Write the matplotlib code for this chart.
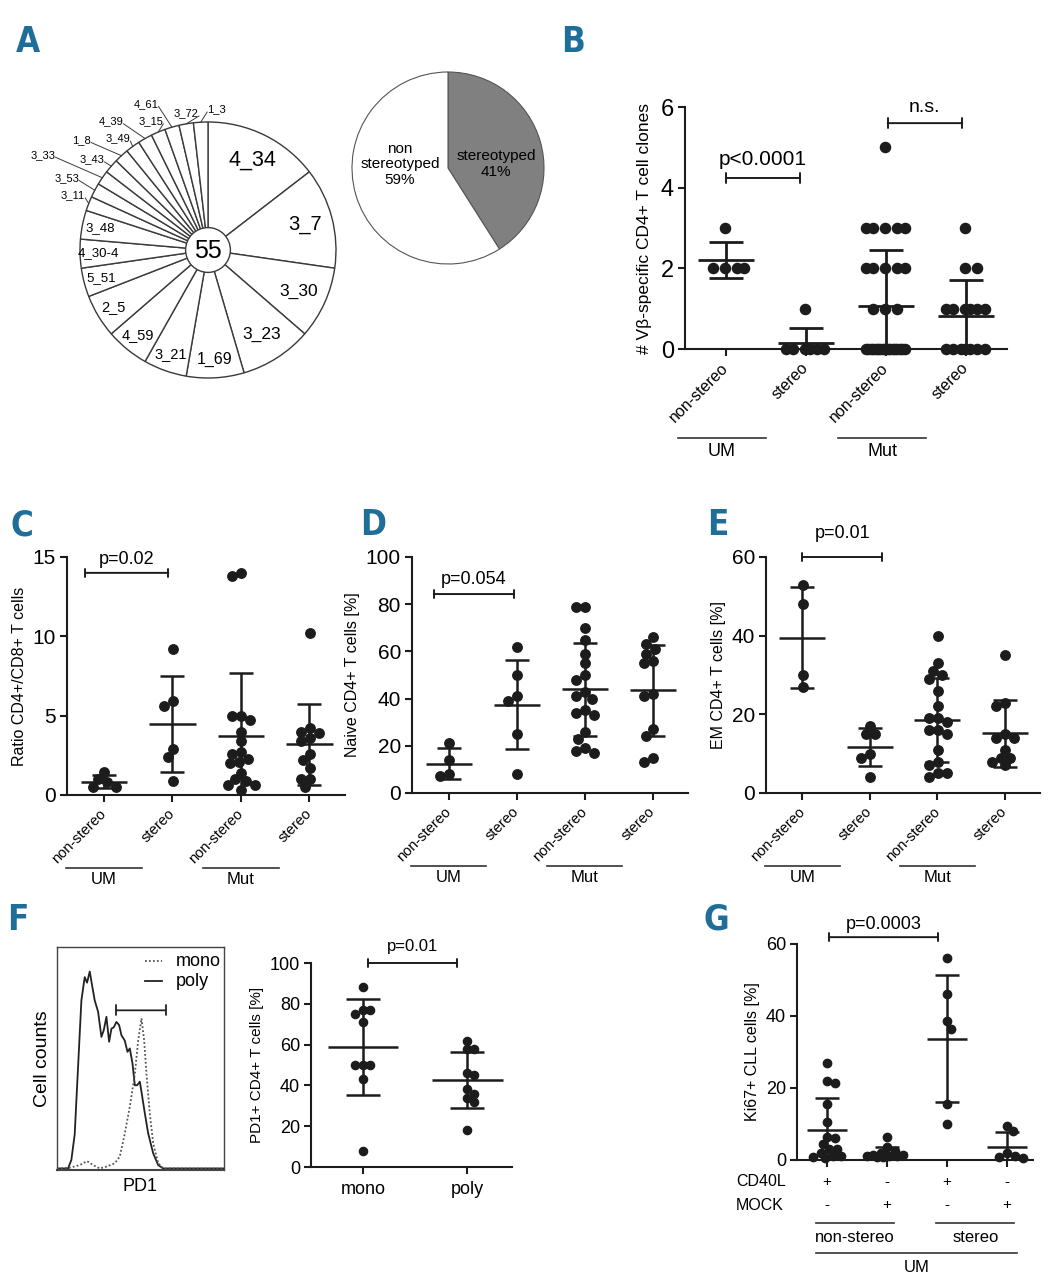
import numpy as np
import matplotlib
matplotlib.use('Agg')
import matplotlib.pyplot as plt
from matplotlib.patches import Circle
from matplotlib.lines import Line2D
from matplotlib.transforms import blended_transform_factory, offset_copy

# ---------------- data ----------------
# A: V-beta families of stereotyped clones (n = 55)
vb_families = ['4_34', '3_7', '3_30', '3_23', '1_69', '3_21', '4_59', '2_5', '5_51', '4_30-4', '3_48',
               '3_11', '3_53', '3_33', '3_43', '1_8', '3_49', '4_39', '3_15', '4_61', '3_72', '1_3']
vb_counts = [8, 7, 5, 5, 4, 3, 3, 3, 2, 2, 2, 1, 1, 1, 1, 1, 1, 1, 1, 1, 1, 1]
total_clones = '55'
stereo_names = ['stereotyped', 'non\nstereotyped']
stereo_pct = [41, 59]

cat_labels = ['non-stereo', 'stereo', 'non-stereo', 'stereo']
ighv_groups = ['UM', 'Mut']

# B: number of Vbeta-specific CD4+ T cell clones
b_um_ns = [3, 2, 2, 2, 2]
b_um_st = [1, 0, 0, 0, 0, 0, 0]
b_mut_ns = [5, 3, 3, 3, 3, 3, 2, 2, 2, 2, 2, 1, 1, 1,
            0, 0, 0, 0, 0, 0, 0, 0, 0, 0, 0, 0, 0, 0, 0, 0, 0]
b_mut_st = [3, 2, 2, 1, 1, 1, 1, 1, 1, 0, 0, 0, 0, 0, 0, 0]
b_pvals = ['p<0.0001', 'n.s.']

# C: ratio CD4+/CD8+
c_um_ns = [1.0, 0.5, 1.45, 0.5, 0.8]
c_um_st = [9.2, 5.6, 5.9, 2.9, 2.4, 0.9]
c_mut_ns = [14.0, 13.8, 5.0, 5.0, 4.7, 4.0, 3.4, 2.7, 2.6, 2.3, 2.0, 2.1, 1.4, 1.0, 0.9, 0.6, 0.6, 0.3]
c_mut_st = [10.2, 4.2, 3.9, 4.0, 3.6, 3.4, 2.6, 2.2, 1.7, 1.0, 1.0, 0.5]
c_pval = 'p=0.02'

# D: naive CD4+ T cells [%]
d_um_ns = [21, 14, 7, 8]
d_um_st = [62, 50, 39, 41, 25, 8]
d_mut_ns = [79, 79, 70, 65, 59, 55, 50, 48, 43, 41, 40, 35, 34, 33, 26, 23, 19, 17, 18]
d_mut_st = [66, 63, 61, 59, 56, 55, 42, 41, 27, 24, 15, 13]
d_pval = 'p=0.054'

# E: EM CD4+ T cells [%]
e_um_ns = [53, 48, 30, 27]
e_um_st = [17, 15, 15, 10, 9, 4]
e_mut_ns = [40, 33, 31, 30, 29, 26, 22, 19, 19, 18, 16, 16, 15, 11, 7, 8, 5, 4, 5]
e_mut_st = [35, 23, 22, 15, 14, 14, 11, 9, 9, 8, 7]
e_pval = 'p=0.01'

# F: PD1 histogram (x and y in % of the plot frame)
hist_x_poly = [0, 6.6, 8.6, 10.6, 12.6, 14.6, 16.6, 18, 19.6, 21.2, 22.6, 24.6, 26.6, 28, 29.6, 31.2,
               32.6, 34, 35.6, 37.2, 38.6, 40.6, 42.2, 43.6, 45.2, 46.6, 48, 49.6, 50.6, 52.6, 54.6,
               57.6, 60.6, 63.6, 100]
hist_y_poly = [0.7, 0.7, 4.5, 16, 46, 76, 86.5, 84, 89, 82, 76, 71, 59.7, 62.7, 68.7, 57.5,
               63.4, 64, 66.4, 65, 60.4, 58, 53, 54.5, 47.8, 38, 38, 39.6, 35, 25.4, 16.4,
               7.5, 2.2, 0.7, 0.7]
hist_x_mono = [0, 7.6, 13.6, 18, 21.6, 25.6, 29.6, 34.6, 37.6, 40.6, 43.6, 46.6, 48.6, 50.6, 52.2,
               53.6, 55.6, 57.6, 60.6, 63.6, 100]
hist_y_mono = [0.6, 1, 2.2, 4, 2.2, 0.7, 1.5, 3, 6, 16.4, 28.4, 43, 58, 68, 58,
               43, 25, 12, 3, 0.7, 0.6]
hist_names = ['mono', 'poly']

# F: PD1+ CD4+ T cells [%]
f_labels = ['mono', 'poly']
f_mono = [88, 77, 75, 77, 71, 50, 50, 50, 43, 8]
f_poly = [62, 58, 58, 45, 46, 38, 36, 34, 32, 18]
f_pval = 'p=0.01'

# G: Ki67+ CLL cells [%]
g_ns_cd40 = [27, 21.5, 22, 15.5, 10.5, 6, 6.5, 4.5, 3, 3, 1, 1, 0.8, 0.5, 2]
g_ns_mock = [6.3, 3.5, 2.5, 2, 1.5, 1.2, 1, 1, 0.8, 1.5, 0.7]
g_st_cd40 = [56, 46, 38.5, 36.5, 15.5, 10]
g_st_mock = [9.5, 8, 2, 0.8, 0.6, 1]
g_cd40l = ['+', '-', '+', '-']
g_mock = ['-', '+', '-', '+']
g_subgroups = ['non-stereo', 'stereo']
g_pval = 'p=0.0003'

# ---------------- figure ----------------
W, H = 1059, 1280
plt.rcParams['font.family'] = ['Liberation Sans', 'DejaVu Sans']
DOT = '#1c1c1c'
LETTER = '#1f6d99'
fig = plt.figure(figsize=(W / 100, H / 100), dpi=100)


def rect(l, r, t, b):
    return [l / W, 1 - b / H, (r - l) / W, (b - t) / H]


def letter(x, y, s):
    fig.text(x / W, 1 - y / H, s, color=LETTER, fontsize=25, fontweight='bold', fontstretch='condensed',
             family=['DejaVu Sans'], ha='center', va='center')


def below_tr(ax, dy):
    return offset_copy(blended_transform_factory(ax.transData, ax.transAxes), fig=fig,
                       x=0, y=-dy, units='dots')


def below_line(ax, x0, x1, dy, lw=1.2):
    ax.add_line(Line2D([x0, x1], [0, 0], transform=below_tr(ax, dy), color='#333', lw=lw, clip_on=False))


def below_text(ax, x, dy, s, fs):
    ax.text(x, 0, s, transform=below_tr(ax, dy), ha='center', va='center', fontsize=fs, clip_on=False)


def swarm(ax, xc, vals, d_px, maxw):
    p0 = ax.transData.transform((0, 0))
    p1 = ax.transData.transform((1, 1))
    sx, sy = p1[0] - p0[0], p1[1] - p0[1]
    v = np.asarray(vals, float)
    ys = v * sy
    cands = np.arange(-maxw, maxw + 0.01, d_px / 4.0)
    cands = cands[np.argsort(np.abs(cands) - 1e-6 * cands)]
    offs = np.zeros(len(v))
    placed = []
    for idx in np.argsort(-v, kind='stable'):
        y = ys[idx]
        best, bestc, bests = None, 0.0, -1
        for c in cands:
            if not placed:
                best = c
                break
            pts = np.array(placed)
            dmin = np.min(np.hypot(c - pts[:, 0], y - pts[:, 1]))
            if dmin >= d_px:
                best = c
                break
            if dmin > bests + 0.3:
                bests, bestc = dmin, c
        if best is None:
            best = bestc
        placed.append((best, y))
        offs[idx] = best / sx
    return offs


def style(ax, xlim, ylim, yticks, tsize):
    ax.set_xlim(xlim)
    ax.set_ylim(ylim)
    ax.set_autoscale_on(False)
    for s in ['top', 'right']:
        ax.spines[s].set_visible(False)
    for s in ['left', 'bottom']:
        ax.spines[s].set_linewidth(1.5)
        ax.spines[s].set_color(DOT)
    ax.set_yticks(yticks)
    ax.tick_params(axis='y', length=5, width=1.5, labelsize=tsize, pad=3, color=DOT)
    ax.tick_params(axis='x', length=5, width=1.5, color=DOT)


def dots(ax, groups, ms, maxw, mean_hw, cap, lw=1.8):
    dpx = ms / 0.72 * 0.95
    for i, vals in enumerate(groups):
        offs = swarm(ax, i, vals, dpx, maxw)
        ax.plot(i + offs, vals, 'o', ms=ms, color=DOT, mec=DOT, clip_on=False, zorder=3)
        m = np.mean(vals)
        s = np.std(vals, ddof=1)
        ax.errorbar(i, m, yerr=s, fmt='none', ecolor=DOT, elinewidth=lw, capsize=cap,
                    capthick=lw, zorder=4)
        ax.hlines(m, i - mean_hw, i + mean_hw, color=DOT, lw=lw, zorder=4)


def bracket(ax, x0, x1, y, text, ty, fs, w=0.3):
    ax.annotate('', xy=(x1, y), xytext=(x0, y),
                arrowprops=dict(arrowstyle='|-|,widthA=%g,widthB=%g' % (w, w), lw=1.4, color=DOT,
                                shrinkA=0, shrinkB=0), annotation_clip=False)
    ax.text((x0 + x1) / 2, ty, text, ha='center', va='center', fontsize=fs, clip_on=False)


# ---------------- A ----------------
letter(28, 42, 'A')
axA = fig.add_axes(rect(0, 340, 80, 420))
R = 128.0
wedges, _ = axA.pie(vb_counts, startangle=90, counterclock=False, colors=['white'] * len(vb_counts),
                    wedgeprops=dict(edgecolor='#3a3a3a', linewidth=1.0))
axA.set_xlim(-208 / R, (340 - 208) / R)
axA.set_ylim(-(420 - 250) / R, (250 - 80) / R)
axA.set_aspect('auto')
axA.axis('off')
axA.add_patch(Circle((0, 0), 0.175, facecolor='white', edgecolor='#3a3a3a', lw=1.0, zorder=5))
axA.text(0, -0.01, total_clones, ha='center', va='center', fontsize=18, zorder=6)
# label placement for the one-clone slices (clockwise angle from top, radius)
out_pos = [(292, 1.14), (297, 1.24), (300, 1.49), (308, 1.15), (311, 1.31), (321, 1.12),
           (323, 1.26), (336, 1.1), (337, 1.24), (351, 1.08), (3.6, 1.1)]
k = 0
for wdg, name, cnt in zip(wedges, vb_families, vb_counts):
    mid = np.deg2rad((wdg.theta1 + wdg.theta2) / 2)
    if cnt >= 2:
        r = 0.78 if cnt >= 5 else 0.86
        axA.text(r * np.cos(mid), r * np.sin(mid), name, ha='center', va='center', fontsize=7.5 + cnt)
    else:
        ang, r = out_pos[k]
        k += 1
        a = np.deg2rad(ang)
        cx, cy = r * np.sin(a), r * np.cos(a)
        hw = 0.022 * len(name) + 0.01
        ex = cx + hw if cx < 0 else cx - hw
        axA.plot([ex, np.cos(mid)], [cy - 0.02, np.sin(mid)], color='#3a3a3a', lw=0.7, clip_on=False)
        axA.text(cx, cy, name, ha='center', va='center', fontsize=8, clip_on=False)

axA2 = fig.add_axes(rect(340, 560, 60, 280))
R2 = 96.0
w2, _ = axA2.pie(stereo_pct, startangle=90, counterclock=False, colors=['#808080', 'white'],
                 wedgeprops=dict(edgecolor='#555555', linewidth=0.8))
axA2.set_xlim(-(448 - 340) / R2, (560 - 448) / R2)
axA2.set_ylim(-(280 - 168) / R2, (168 - 60) / R2)
axA2.set_aspect('auto')
axA2.axis('off')
for wdg, name, pct in zip(w2, stereo_names, stereo_pct):
    mid = np.deg2rad((wdg.theta1 + wdg.theta2) / 2)
    axA2.text(0.5 * np.sign(np.cos(mid)), 0.04, '%s\n%d%%' % (name, pct), ha='center', va='center',
              fontsize=11, linespacing=1.15)

# ---------------- B ----------------
letter(573, 42, 'B')
axB = fig.add_axes(rect(685, 1007, 107, 349))
style(axB, (-0.51, 3.51), (0, 6), [0, 2, 4, 6], 17)
dots(axB, [b_um_ns, b_um_st, b_mut_ns, b_mut_st], ms=7.3, maxw=20, mean_hw=0.35, cap=12, lw=2.0)
axB.set_xticks(range(4))
axB.set_xticklabels(cat_labels, rotation=45, ha='right', va='center', rotation_mode='anchor', fontsize=11.5)
axB.tick_params(axis='x', pad=7)
axB.set_ylabel('# V\u03b2-specific CD4+ T cell clones', fontsize=12.5, labelpad=6)
bracket(axB, 0, 0.92, 4.24, b_pvals[0], 4.7, 15, w=0.35)
bracket(axB, 2.02, 2.95, 5.6, b_pvals[1], 6.0, 14, w=0.35)
for gi, g in enumerate(ighv_groups):
    below_line(axB, 2 * gi - 0.6, 2 * gi + 0.5, 89)
    below_text(axB, 2 * gi - 0.05, 102, g, 13)

# ---------------- C, D, E ----------------
def cde(rc, ylim, yticks, groups, ylabel, br, pval):
    ax = fig.add_axes(rect(*rc))
    style(ax, (-0.54, 3.52), ylim, yticks, 15)
    dots(ax, groups, ms=6.8, maxw=22, mean_hw=0.34, cap=8.5, lw=1.8)
    ax.set_xticks(range(4))
    ax.set_xticklabels(cat_labels, rotation=45, ha='right', va='center', rotation_mode='anchor', fontsize=10.5)
    ax.tick_params(axis='x', pad=7)
    ax.set_ylabel(ylabel, fontsize=11.5, labelpad=4)
    bracket(ax, br[0], br[1], br[2], pval, br[3], 13, w=0.3)
    for gi, g in enumerate(ighv_groups):
        below_line(ax, 2 * gi - 0.55, 2 * gi + 0.55, 73)
        below_text(ax, 2 * gi, 84, g, 12)
    return ax


letter(22, 525, 'C')
cde((67, 345, 557, 795), (0, 15), [0, 5, 10, 15], [c_um_ns, c_um_st, c_mut_ns, c_mut_st],
    'Ratio CD4+/CD8+ T cells', (-0.27, 0.94, 14.0, 14.85), c_pval)
letter(373, 525, 'D')
cde((412, 688, 557, 793), (0, 100), [0, 20, 40, 60, 80, 100], [d_um_ns, d_um_st, d_mut_ns, d_mut_st],
    'Naive CD4+ T cells [%]', (-0.22, 0.96, 84.3, 90.3), d_pval)
letter(718, 525, 'E')
cde((766, 1040, 557, 793), (0, 60), [0, 20, 40, 60], [e_um_ns, e_um_st, e_mut_ns, e_mut_st],
    'EM CD4+ T cells [%]', (0.0, 1.18, 60.0, 66.0), e_pval)

# ---------------- F ----------------
letter(18, 920, 'F')
axH = fig.add_axes(rect(57, 224, 947, 1170))
axH.plot(hist_x_poly, hist_y_poly, color='#222222', lw=1.3)
axH.plot(hist_x_mono, hist_y_mono, color='#555555', lw=1.3, ls=(0, (1, 1.2)))
axH.set_xlim(0, 100)
axH.set_ylim(0, 100)
axH.set_xticks([])
axH.set_yticks([])
for s in axH.spines.values():
    s.set_linewidth(1.0)
    s.set_color('#444444')
axH.spines['bottom'].set_linewidth(1.5)
axH.set_ylabel('Cell counts', fontsize=14, labelpad=4)
axH.set_xlabel('PD1', fontsize=13, labelpad=6)
axH.annotate('', xy=(65, 71.6), xytext=(35.2, 71.6),
             arrowprops=dict(arrowstyle='|-|,widthA=0.35,widthB=0.35', lw=1.3, color='#222222',
                             shrinkA=0, shrinkB=0))
axH.plot([52.6, 62.6], [93.6, 93.6], color='#555555', lw=1.3, ls=(0, (1, 1.2)))
axH.plot([52.6, 62.6], [84.6, 84.6], color='#222222', lw=1.3)
axH.text(71, 93.6, hist_names[0], fontsize=13, va='center')
axH.text(71, 84.6, hist_names[1], fontsize=13, va='center')

axF = fig.add_axes(rect(311, 512, 963, 1167))
style(axF, (-0.5, 1.43), (0, 100), [0, 20, 40, 60, 80, 100], 13)
dots(axF, [f_mono, f_poly], ms=5.9, maxw=20, mean_hw=0.34, cap=12.5, lw=1.8)
axF.set_xticks(range(2))
axF.set_xticklabels(f_labels, fontsize=13)
axF.tick_params(axis='x', pad=5)
axF.set_ylabel('PD1+ CD4+ T cells [%]', fontsize=11, labelpad=4)
bracket(axF, 0.05, 0.9, 100, f_pval, 108, 12, w=0.3)

# ---------------- G ----------------
letter(716, 920, 'G')
axG = fig.add_axes(rect(797, 1033, 944, 1160))
style(axG, (-0.5, 3.43), (0, 60), [0, 20, 40, 60], 13)
dots(axG, [g_ns_cd40, g_ns_mock, g_st_cd40, g_st_mock], ms=6.0, maxw=20, mean_hw=0.33, cap=8.4, lw=1.8)
axG.set_xticks(range(4))
axG.set_xticklabels([])
axG.set_ylabel('Ki67+ CLL cells [%]', fontsize=11.5, labelpad=4)
bracket(axG, 0.03, 1.85, 61.9, g_pval, 65.5, 13, w=0.3)
for i in range(4):
    below_text(axG, i, 22, g_cd40l[i], 11)
    below_text(axG, i, 45, g_mock[i], 11)
fig.text(736 / W, 1 - 1182 / H, 'CD40L', fontsize=11.5, ha='left', va='center')
fig.text(736 / W, 1 - 1205 / H, 'MOCK', fontsize=11.5, ha='left', va='center')
for gi, g in enumerate(g_subgroups):
    below_line(axG, 2 * gi - 0.18, 2 * gi + 1.12, 63)
    below_text(axG, 2 * gi + 0.47, 78, g, 12)
below_line(axG, -0.18, 3.17, 93)
below_text(axG, 1.5, 107, 'UM', 12)

fig.savefig('out.png', dpi=100)
